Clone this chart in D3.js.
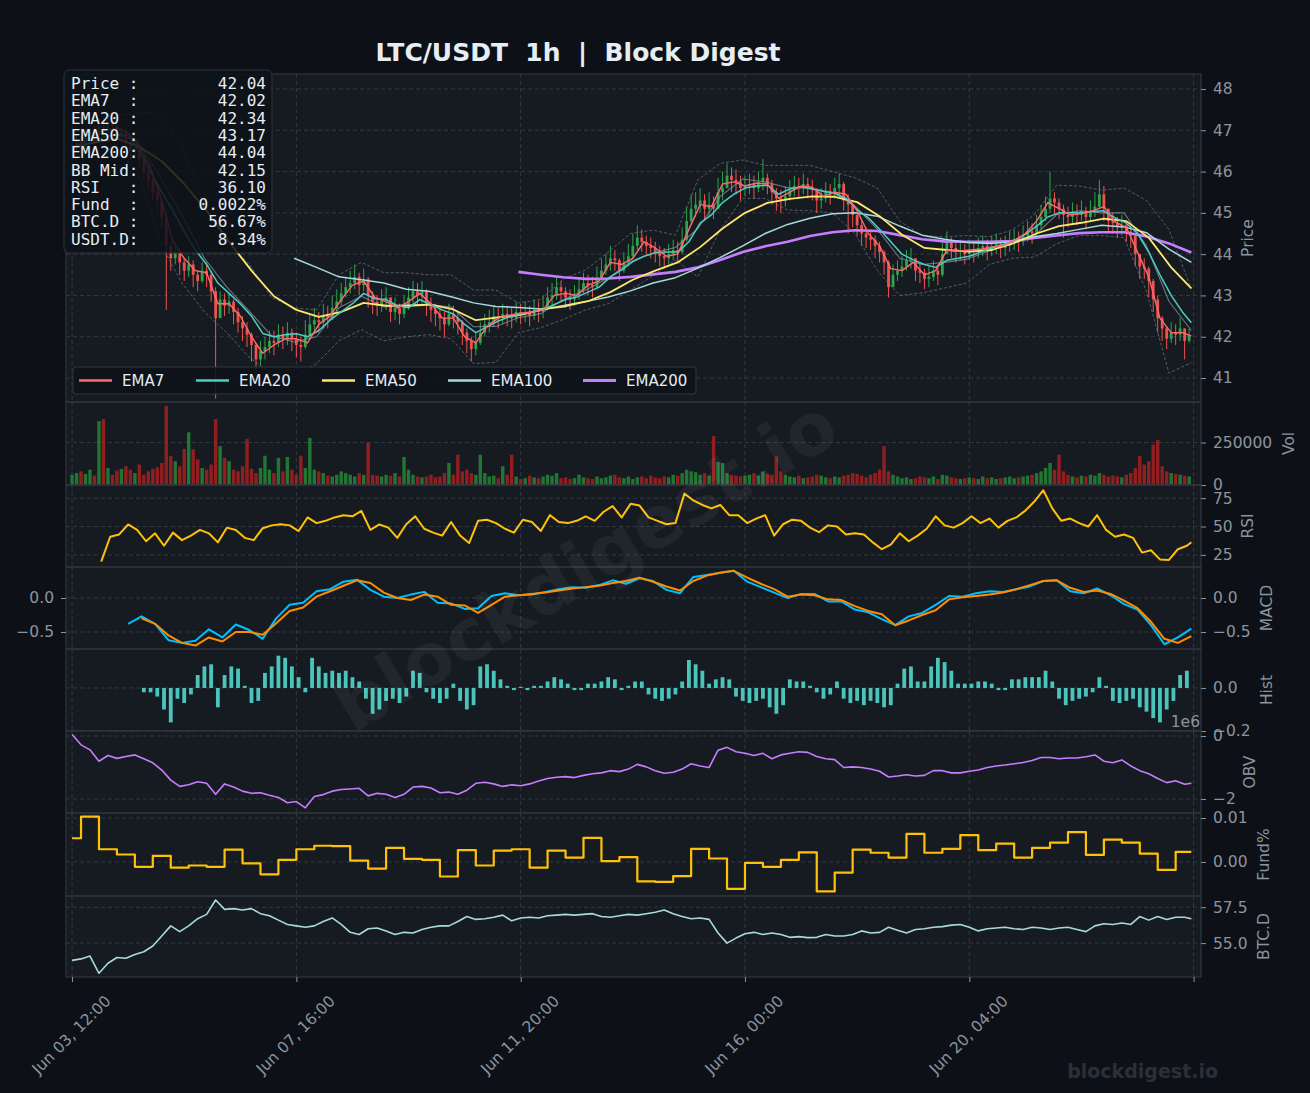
<!DOCTYPE html>
<html>
<head>
<meta charset="utf-8">
<script src="https://cdn.jsdelivr.net/npm/d3@7"></script>
<style>
html, body { margin: 0; padding: 0; background: #0d1117; }
svg { display: block; }
text { font-family: "DejaVu Sans", sans-serif; }
</style>
</head>
<body>
<svg id="chart" width="1310" height="1093"></svg>
<script>
// ---- data (hourly LTC/USDT) ----
// candles are sampled every 2 hours, k -> hour 2k
var firstOpen = 46.5;
var closes = [46.6,46.75,46.6,46.9,47.0,46.85,47.1,47.05,47.2,47.1,
46.9,46.95,46.7,46.5,46.55,46.3,46.0,45.8,45.5,45.3,
44.9,44.2,43.9,44.05,43.8,43.6,43.75,43.5,43.35,43.6,
43.5,43.1,42.45,42.9,42.75,42.85,42.6,42.35,42.2,42.05,
41.8,41.45,41.65,41.75,41.9,41.85,42.05,41.95,42.1,41.95,
41.8,41.75,42.05,42.3,42.4,42.35,42.5,42.45,42.7,42.85,
43.05,43.2,43.3,43.45,43.25,43.4,43.0,42.85,42.75,42.9,
42.95,42.6,42.7,42.55,42.75,42.95,43.1,43.0,43.1,42.8,
42.65,42.55,42.45,42.3,42.55,42.45,42.35,42.1,41.9,41.7,
41.85,42.1,42.3,42.35,42.5,42.45,42.55,42.5,42.45,42.6,
42.55,42.6,42.5,42.65,42.6,42.7,42.95,43.0,43.2,43.1,
42.95,42.9,43.0,43.15,43.3,43.25,43.2,43.4,43.6,43.75,
43.9,43.85,43.6,43.8,43.95,44.2,44.4,44.3,44.2,44.15,
44.05,43.95,43.9,44.0,44.1,44.05,44.35,44.8,45.1,45.2,
45.3,45.1,45.2,45.1,45.5,45.6,45.9,45.8,45.75,45.6,
45.65,45.7,45.6,45.75,45.85,45.7,45.5,45.35,45.3,45.4,
45.55,45.65,45.6,45.7,45.6,45.55,45.3,45.35,45.5,45.45,
45.6,45.7,45.3,45.2,44.95,44.7,44.5,44.4,44.35,44.2,
44.05,43.8,43.2,43.5,43.6,43.7,43.85,43.9,43.6,43.55,
43.4,43.45,43.6,43.5,44.0,44.3,44.15,44.05,44.1,44.0,
44.1,44.05,44.15,44.2,44.1,44.2,44.25,44.15,44.2,44.3,
44.35,44.3,44.45,44.55,44.5,44.7,44.9,45.1,45.35,45.25,
45.1,44.95,44.9,45.0,44.95,45.05,44.9,45.05,45.15,45.45,
45.1,44.8,44.75,44.65,44.7,44.55,44.45,44.0,43.7,43.65,
43.35,42.9,42.45,42.2,41.95,42.1,42.05,42.2,41.9,42.04];

var highs = [46.8,46.9,46.85,47.05,47.2,47.1,47.25,47.3,47.4,47.3,
47.15,47.1,47.0,46.75,46.75,46.6,46.35,46.1,45.85,45.6,
45.4,45.0,44.3,44.3,44.15,43.9,43.95,43.85,43.6,43.8,
43.8,43.6,43.2,43.1,43.05,43.05,42.9,42.7,42.5,42.35,
42.1,41.85,41.9,42.0,42.15,42.15,42.3,42.25,42.35,42.2,
42.1,42.0,42.4,42.55,42.7,42.6,42.8,42.75,43.0,43.15,
43.3,43.45,43.6,43.75,43.55,43.65,43.45,43.1,43.0,43.15,
43.2,42.95,42.95,42.8,43.0,43.2,43.35,43.3,43.35,43.15,
42.95,42.8,42.7,42.6,42.8,42.75,42.6,42.4,42.2,42.0,
42.1,42.35,42.55,42.65,42.75,42.7,42.8,42.75,42.7,42.85,
42.8,42.85,42.75,42.9,42.85,43.0,43.2,43.3,43.45,43.35,
43.2,43.15,43.25,43.4,43.55,43.5,43.45,43.7,43.9,44.0,
44.2,44.1,43.9,44.05,44.25,44.5,44.7,44.6,44.45,44.4,
44.3,44.2,44.15,44.25,44.35,44.3,44.65,45.15,45.45,45.5,
45.6,45.45,45.5,45.4,45.85,46.0,46.2,46.1,46.05,45.9,
45.9,45.95,45.9,46.0,46.3,45.95,45.8,45.6,45.55,45.65,
45.8,45.9,45.85,45.95,45.85,45.8,45.6,45.6,45.75,45.7,
45.85,45.95,45.75,45.45,45.25,45.0,44.8,44.65,44.6,44.45,
44.3,44.1,43.85,43.75,43.85,43.95,44.1,44.15,43.9,43.8,
43.65,43.7,43.85,43.75,44.3,44.55,44.4,44.3,44.35,44.25,
44.35,44.3,44.4,44.45,44.35,44.45,44.5,44.4,44.45,44.55,
44.6,44.55,44.7,44.8,44.75,44.95,45.2,45.4,46.0,45.5,
45.35,45.2,45.15,45.25,45.2,45.3,45.15,45.3,45.5,45.8,
45.65,45.1,45.0,44.9,44.95,44.8,44.7,44.4,44.0,43.9,
43.7,43.4,43.0,42.5,42.25,42.35,42.3,42.45,42.2,42.2];

var lows = [46.4,46.5,46.45,46.55,46.8,46.7,46.8,46.9,46.95,46.9,
46.75,46.7,46.5,46.3,46.3,46.1,45.8,45.55,45.3,45.05,
44.6,42.65,43.6,43.75,43.5,43.35,43.45,43.2,43.1,43.3,
43.2,42.85,40.5,42.55,42.5,42.55,42.3,42.1,41.9,41.75,
41.4,41.05,41.3,41.45,41.6,41.55,41.75,41.7,41.8,41.65,
41.5,41.4,41.7,41.95,42.1,42.1,42.2,42.2,42.4,42.55,
42.75,42.95,43.05,43.15,43.0,43.1,42.7,42.55,42.5,42.6,
42.65,42.35,42.4,42.3,42.45,42.65,42.8,42.75,42.8,42.5,
42.35,42.25,42.15,42.0,42.25,42.2,42.05,41.8,41.6,41.4,
41.55,41.8,42.0,42.1,42.25,42.2,42.3,42.25,42.2,42.35,
42.3,42.35,42.25,42.4,42.35,42.45,42.65,42.75,42.9,42.85,
42.7,42.65,42.75,42.9,43.05,43.0,42.95,43.15,43.35,43.5,
43.6,43.6,43.35,43.55,43.7,43.9,44.1,44.05,43.95,43.9,
43.8,43.7,43.65,43.75,43.85,43.8,44.0,44.3,44.75,44.9,
45.0,44.8,44.9,44.85,45.1,45.3,45.6,45.5,45.45,45.3,
45.4,45.45,45.35,45.5,45.55,45.45,45.2,45.05,45.0,45.15,
45.3,45.4,45.35,45.45,45.35,45.3,45.0,45.1,45.25,45.2,
45.35,45.4,45.05,44.5,44.65,44.45,44.2,44.15,44.1,43.9,
43.8,43.5,42.95,43.2,43.35,43.45,43.6,43.65,43.35,43.3,
43.15,43.2,43.35,43.25,43.45,44.0,43.9,43.8,43.85,43.75,
43.85,43.8,43.9,43.95,43.85,43.95,44.0,43.9,43.95,44.05,
44.1,44.05,44.2,44.3,44.25,44.45,44.6,44.8,45.0,44.95,
44.85,44.4,44.65,44.75,44.7,44.8,44.6,44.8,44.9,45.1,
44.8,44.55,44.5,44.4,44.45,44.3,44.15,43.7,43.4,43.4,
42.95,42.6,42.1,41.9,41.7,41.85,41.8,41.9,41.45,41.85];

// volume per 2h candle, thousands
var volK = [60,70,80,65,90,55,375,387,100,60,
85,95,110,90,70,120,60,80,95,105,
130,464,170,140,110,212,310,210,150,100,
90,120,387,228,160,140,90,80,110,271,
95,70,100,172,90,70,160,80,165,90,
60,172,100,277,90,80,70,55,50,60,
80,70,60,50,70,60,248,60,55,50,
60,55,70,50,165,90,60,50,45,50,
60,45,50,70,130,60,178,80,90,70,
60,178,70,50,55,40,110,60,178,50,
35,40,55,45,40,50,60,55,70,40,
45,35,40,60,45,40,35,50,40,45,
55,60,45,40,50,35,45,50,40,55,
45,40,50,45,60,55,70,90,80,75,
60,70,55,288,135,130,70,60,55,50,
55,60,70,55,80,65,60,168,80,60,
50,45,55,40,45,50,60,55,45,40,
50,45,55,60,70,65,55,45,60,70,
90,228,80,60,50,40,45,35,40,50,
45,40,50,35,60,55,45,40,35,40,
45,40,35,50,40,45,35,40,45,50,
40,45,50,55,60,70,80,100,130,90,
178,80,60,50,45,55,50,60,55,70,
60,50,55,50,45,60,70,100,170,120,
140,238,264,110,80,70,65,60,55,50];

// EMA7 / EMA20: every 5h from hour 0
var ema7 = [46.6,46.7,46.85,47.0,47.05,46.95,46.6,46.1,45.3,44.3,
43.9,43.6,43.55,42.8,42.8,42.5,42.0,41.6,41.8,41.95,
41.95,41.85,42.3,42.5,42.9,43.25,43.35,42.95,42.85,42.7,
42.85,43.05,42.8,42.45,42.45,42.0,41.85,42.25,42.45,42.52,
42.57,42.6,42.65,43.0,43.05,43.0,43.25,43.35,43.8,43.75,
43.9,44.3,44.15,43.95,44.0,44.6,45.2,45.15,45.7,45.75,
45.65,45.72,45.7,45.35,45.5,45.65,45.62,45.4,45.5,45.45,
45.05,44.5,44.2,43.65,43.6,43.8,43.5,43.6,44.1,44.07,
44.1,44.12,44.17,44.2,44.33,44.5,44.8,45.25,45.1,44.95,
44.98,45.05,45.15,44.78,44.65,44.05,43.45,42.45,42.1,42.1,42.02];
var ema20 = [46.6,46.65,46.75,46.85,46.9,46.88,46.5,46.0,45.5,45.05,
44.55,44.1,43.75,43.3,43.05,42.8,42.5,42.08,42.0,42.05,
42.07,42.0,42.15,42.4,42.6,42.8,43.05,42.92,42.9,42.75,
42.7,42.9,42.78,42.65,42.55,42.3,42.1,42.24,42.38,42.48,
42.55,42.6,42.65,42.78,42.9,42.96,43.08,43.2,43.45,43.62,
43.82,43.95,44.03,44.05,44.05,44.3,44.75,44.95,45.25,45.45,
45.6,45.65,45.67,45.45,45.58,45.63,45.58,45.52,45.48,45.35,
45.08,44.88,44.6,44.3,44.0,43.86,43.75,43.68,43.85,43.9,
43.95,44.05,44.15,44.23,44.33,44.48,44.68,44.9,45.0,45.0,
45.0,45.03,45.05,44.88,44.75,44.5,44.05,43.5,43.0,42.6,42.34];
// EMA50: every 10h from hour 0
var ema50 = [46.6,46.7,46.8,46.6,46.25,45.7,45.05,44.3,43.6,42.98,
42.65,42.48,42.6,42.82,42.75,42.75,42.78,42.66,42.4,42.47,
42.53,42.66,42.76,42.86,43.08,43.38,43.6,43.8,44.17,44.62,
45.0,45.24,45.34,45.4,45.39,45.26,44.92,44.47,44.15,44.1,
44.06,44.1,44.27,44.5,44.68,44.76,44.86,44.8,44.4,43.68,43.17];
// EMA100: every 10h from hour 99
var ema100 = [43.9,43.68,43.45,43.38,43.3,43.15,43.1,42.97,42.82,42.73,
42.71,42.67,42.72,42.85,42.96,43.11,43.3,43.43,43.66,43.92,
44.2,44.5,44.72,44.87,44.98,45.0,44.92,44.68,44.46,44.36,
44.28,44.26,44.3,44.42,44.5,44.6,44.7,44.66,44.52,44.12,43.8];
// EMA200: every 10h from hour 199
var ema200 = [43.57,43.5,43.44,43.4,43.41,43.45,43.51,43.57,43.68,43.86,
44.05,44.19,44.3,44.44,44.53,44.58,44.56,44.46,44.36,44.31,
44.3,44.3,44.32,44.39,44.45,44.51,44.53,44.53,44.43,44.26,44.04];
// Bollinger bands: every 10h from hour 19
var bbUpper = [47.35,47.4,47.45,46.6,45.2,44.3,43.75,42.95,42.7,42.65,
43.5,43.8,43.55,43.55,43.5,43.5,43.13,43.13,42.82,42.9,
43.4,43.62,44.05,44.5,44.58,44.46,45.8,46.2,46.28,46.15,
46.15,46.15,46.0,45.85,45.6,44.8,44.45,44.42,44.45,44.42,
44.58,44.95,45.67,45.65,45.55,45.6,45.3,44.6,43.15];
var bbMid = [46.9,46.75,45.9,44.95,43.9,43.2,42.62,42.02,41.87,42.0,
42.7,42.98,42.72,42.78,42.78,42.72,42.24,42.25,42.46,42.56,
42.9,43.13,43.42,43.82,44.03,44.16,44.62,45.4,45.82,45.75,
45.61,45.6,45.5,45.17,44.6,43.9,43.75,43.8,43.88,44.08,
44.24,44.44,44.96,45.05,45.0,45.0,44.2,42.86,42.15];
var bbLower = [46.45,46.1,44.3,43.3,42.6,42.1,41.5,41.1,41.03,41.35,
41.9,42.17,41.9,42.0,42.05,41.95,41.35,41.38,42.1,42.22,
42.42,42.65,42.8,43.13,43.48,43.86,43.45,44.6,45.35,45.35,
45.07,45.05,45.0,44.5,43.6,43.0,43.06,43.18,43.3,43.75,
43.9,43.93,44.25,44.45,44.45,44.4,43.1,41.12,41.37];

// RSI: every 4h from hour 13
var rsi = [19,41,43,51.8,47,37,44,33,44.6,38,
42,47,44,36,49,47,40,38,48.5,51,
52,51,46,58,53,55,58,60,59,63.7,
47,51.8,49,40,52,59,48,44.6,42,54,
42,35.4,55,56,53,48,44.6,56,54,46,
60,54,53,55,59,55,63,68,58,70,
68.5,58,55,52,53,79,73,69,66,69,
60,60,53,57,60,42,52,56,55,49,
45,51,50,43,44,43,36,30,34,44,
37,42,48,59,51,49,53,59,53,57,
49,55,58,64,72,82,66,55,57,53,
50,60,47,41,43,40,27,29,21,20.5,
30,33,36.1];

// MACD: every 6h from hour 25; signal: every 6h from hour 31
var macd = [-0.38,-0.27,-0.38,-0.62,-0.66,-0.63,-0.46,-0.58,-0.39,-0.47,
-0.6,-0.3,-0.1,-0.07,0.1,0.13,0.24,0.27,0.12,0.02,
0.0,0.05,0.09,-0.07,-0.08,-0.16,-0.15,0.03,0.07,0.04,
0.05,0.09,0.13,0.16,0.15,0.19,0.26,0.21,0.29,0.25,
0.12,0.07,0.31,0.34,0.37,0.4,0.24,0.16,0.08,0.0,
0.06,0.06,-0.05,-0.05,-0.17,-0.21,-0.31,-0.4,-0.27,-0.22,
-0.1,0.03,0.02,0.07,0.1,0.09,0.13,0.17,0.25,0.26,
0.1,0.07,0.14,0.04,-0.09,-0.17,-0.4,-0.68,-0.58,-0.45];
var signal = [-0.3,-0.38,-0.55,-0.66,-0.7,-0.58,-0.64,-0.5,-0.5,-0.54,
-0.37,-0.19,-0.14,0.02,0.1,0.18,0.26,0.22,0.08,0.0,
-0.03,0.05,0.02,-0.1,-0.11,-0.22,-0.1,0.02,0.04,0.06,
0.08,0.11,0.14,0.16,0.18,0.22,0.25,0.3,0.24,0.17,
0.11,0.25,0.33,0.37,0.4,0.3,0.21,0.13,0.02,0.05,
0.04,-0.02,-0.03,-0.12,-0.19,-0.24,-0.4,-0.33,-0.25,-0.18,
-0.02,0.01,0.03,0.05,0.08,0.13,0.19,0.25,0.26,0.15,
0.09,0.11,0.06,-0.04,-0.15,-0.35,-0.6,-0.66,-0.56];

// histogram: every 3h from hour 32
var hist = [-0.02,-0.02,-0.04,-0.1,-0.16,-0.05,-0.07,-0.03,0.06,0.1,
0.11,-0.09,0.06,0.1,0.09,0.01,-0.07,-0.06,0.07,0.1,
0.15,0.14,0.1,0.05,-0.02,0.14,0.1,0.07,0.08,0.07,
0.08,0.05,0.03,-0.05,-0.12,-0.1,-0.06,-0.05,-0.07,-0.04,
0.08,0.07,-0.02,-0.05,-0.07,-0.05,0.02,-0.06,-0.1,-0.08,
0.1,0.11,0.08,0.04,0.01,-0.01,0.005,-0.01,0.01,0.01,
0.03,0.05,0.04,0.02,-0.01,-0.01,0.02,0.02,0.03,0.05,
0.04,-0.01,0.01,0.03,0.03,-0.03,-0.05,-0.06,-0.05,-0.03,
0.03,0.13,0.11,0.08,0.02,0.04,0.05,0.04,-0.04,-0.06,
-0.07,-0.06,-0.05,-0.09,-0.12,-0.08,0.04,0.03,0.03,0.01,
-0.02,-0.05,-0.03,0.03,-0.05,-0.07,-0.06,-0.08,-0.06,-0.07,
-0.09,-0.08,0.02,0.09,0.1,0.03,0.03,0.1,0.14,0.12,
0.08,0.02,0.02,0.02,0.03,0.03,0.02,-0.01,-0.01,0.04,
0.04,0.05,0.05,0.05,0.08,0.03,-0.05,-0.08,-0.06,-0.05,
-0.04,-0.02,0.05,0.01,-0.06,-0.07,-0.06,-0.05,-0.09,-0.11,
-0.14,-0.16,-0.1,-0.06,0.06,0.08];

// OBV (x1e6): every 4h from hour 0
var obv = [0.05,-0.28,-0.44,-0.8,-0.62,-0.71,-0.65,-0.6,-0.72,-0.85,
-1.08,-1.4,-1.6,-1.55,-1.45,-1.5,-1.85,-1.52,-1.62,-1.75,
-1.82,-1.8,-1.88,-1.95,-2.12,-2.08,-2.28,-1.92,-1.86,-1.75,
-1.7,-1.68,-1.66,-1.9,-1.82,-1.85,-1.95,-1.85,-1.62,-1.6,
-1.65,-1.8,-1.78,-1.85,-1.72,-1.5,-1.47,-1.52,-1.6,-1.55,
-1.58,-1.52,-1.43,-1.35,-1.31,-1.29,-1.32,-1.25,-1.2,-1.17,
-1.1,-1.13,-1.05,-0.9,-0.98,-1.1,-1.18,-1.15,-1.05,-0.88,
-0.95,-1.0,-0.45,-0.36,-0.5,-0.55,-0.62,-0.55,-0.72,-0.6,
-0.55,-0.5,-0.52,-0.65,-0.72,-0.75,-1.0,-0.98,-1.0,-1.05,
-1.12,-1.3,-1.27,-1.23,-1.27,-1.25,-1.1,-1.1,-1.17,-1.17,
-1.12,-1.08,-1.0,-0.95,-0.92,-0.88,-0.84,-0.78,-0.68,-0.68,
-0.72,-0.7,-0.7,-0.66,-0.6,-0.8,-0.85,-0.76,-0.95,-1.1,
-1.2,-1.35,-1.48,-1.42,-1.53,-1.5];

// funding rate (%), one value per 8h window
var fund = [0.0054,0.0103,0.0029,0.0017,-0.0011,0.0014,-0.0013,-0.0008,-0.0011,0.0028,
-0.0003,-0.0028,0.0005,0.0029,0.0037,0.0036,0.0003,-0.0015,0.0032,0.0007,
0.0005,-0.0033,0.0027,-0.0008,0.0026,0.0029,-0.0013,0.0026,0.001,0.0055,
0.0002,0.0011,-0.0044,-0.0045,-0.0032,0.003,0.0008,-0.0061,-0.0002,-0.0011,
0.0005,0.0022,-0.0067,-0.0024,0.0028,0.0021,0.001,0.0064,0.0021,0.003,
0.0061,0.0027,0.0042,0.001,0.0032,0.0044,0.0068,0.0016,0.0051,0.0044,
0.0019,-0.0018,0.0023];

// BTC dominance (%): every 4h from hour 0
var btcd = [53.8,53.9,54.1,52.9,53.6,54.0,53.95,54.2,54.4,54.8,
55.5,56.2,55.8,56.2,56.7,57.0,58.0,57.35,57.4,57.3,
57.4,57.05,56.9,56.6,56.3,56.2,56.1,56.2,56.5,56.75,
56.3,55.75,55.6,56.0,56.05,55.85,55.6,55.75,55.7,55.95,
56.1,56.2,56.2,56.5,56.85,56.65,56.7,56.8,56.95,56.55,
56.75,56.8,56.75,56.9,56.95,57.0,56.95,57.0,57.05,56.85,
56.8,56.9,57.0,56.95,57.05,57.15,57.3,57.05,56.85,56.7,
56.75,56.65,55.7,55.0,55.35,55.65,55.75,55.6,55.7,55.6,
55.4,55.45,55.38,55.4,55.6,55.5,55.5,55.6,55.85,55.7,
55.75,56.1,55.9,55.7,55.95,56.0,56.1,56.15,56.25,56.3,
56.1,55.85,56.0,56.05,56.1,56.0,55.95,56.1,56.05,55.95,
56.05,56.1,55.95,55.8,56.2,56.35,56.3,56.4,56.3,56.85,
56.6,56.85,56.65,56.8,56.8,56.7];

var infoLabels = ["Price :", "EMA7  :", "EMA20 :", "EMA50 :", "EMA200:", "BB Mid:", "RSI   :", "Fund  :", "BTC.D :", "USDT.D:"];
var infoValues = ["42.04", "42.02", "42.34", "43.17", "44.04", "42.15", "36.10", "0.0022%", "56.67%", "8.34%"];
var legendNames = ["EMA7", "EMA20", "EMA50", "EMA100", "EMA200"];
var xTickHours = [0, 100, 200, 300, 400, 500];

// ---- layout ----
var W = 1310, H = 1093;
var plotL = 66, plotR = 1201;
var t0 = new Date(2024, 5, 3, 12, 0, 0);
function hourDate(h) { return new Date(t0.getTime() + h * 3600000); }
var x = d3.scaleTime().domain([hourDate(-2.7), hourDate(503.3)]).range([plotL, plotR]);
function xh(h) { return x(hourDate(h)); }

var panels = [
  {name: "price", top: 74, bottom: 402, domain: [40.419, 48.363], ticks: [41,42,43,44,45,46,47,48], fmt: "d", label: "Price", labelX: 1248},
  {name: "vol", top: 402, bottom: 485, domain: [0, 488095], ticks: [0, 250000], fmt: "d", label: "Vol", labelX: 1289},
  {name: "rsi", top: 485, bottom: 567, domain: [14.3, 86.6], ticks: [25, 50, 75], fmt: "d", label: "RSI", labelX: 1248},
  {name: "macd", top: 567, bottom: 649, domain: [-0.75, 0.456], ticks: [-0.5, 0], fmt: ".1f", label: "MACD", labelX: 1267, left: true},
  {name: "hist", top: 649, bottom: 731, domain: [-0.2, 0.181], ticks: [-0.2, 0], fmt: ".1f", label: "Hist", labelX: 1267},
  {name: "obv", top: 731, bottom: 813, domain: [-2.444, 0.159], ticks: [-2, 0], fmt: "d", label: "OBV", labelX: 1250},
  {name: "fund", top: 813, bottom: 896, domain: [-0.00773, 0.01114], ticks: [0, 0.01], fmt: ".2f", label: "Fund%", labelX: 1264},
  {name: "btcd", top: 896, bottom: 977, domain: [52.64, 58.28], ticks: [55, 57.5], fmt: ".1f", label: "BTC.D", labelX: 1264}
];
var pn = {};
panels.forEach(function(p) { pn[p.name] = p; });

var svg = d3.select("#chart");
svg.append("rect").attr("width", W).attr("height", H).attr("fill", "#0d1117");
var defs = svg.append("defs");

panels.forEach(function(p) {
  p.y = d3.scaleLinear().domain(p.domain).range([p.bottom, p.top]);
  svg.append("rect").attr("x", plotL).attr("y", p.top)
    .attr("width", plotR - plotL).attr("height", p.bottom - p.top).attr("fill", "#161b22");
  defs.append("clipPath").attr("id", "clip-" + p.name).append("rect")
    .attr("x", plotL).attr("y", p.top).attr("width", plotR - plotL).attr("height", p.bottom - p.top);
  p.g = svg.append("g").attr("clip-path", "url(#clip-" + p.name + ")");
  p.g.selectAll(".hg").data(p.ticks).enter().append("line")
    .attr("x1", plotL).attr("x2", plotR)
    .attr("y1", function(d) { return p.y(d); }).attr("y2", function(d) { return p.y(d); })
    .attr("stroke", "#3a404a").attr("stroke-width", 0.8).attr("stroke-dasharray", "4,3");
  p.g.selectAll(".vg").data(xTickHours).enter().append("line")
    .attr("x1", xh).attr("x2", xh).attr("y1", p.top).attr("y2", p.bottom)
    .attr("stroke", "#3a404a").attr("stroke-width", 0.8).attr("stroke-dasharray", "4,3");
});

function pts(values, start, step) {
  return values.map(function(v, j) { return {h: Math.min(start + step * j, 499), v: v}; });
}
function lineFor(p, curve) {
  return d3.line().x(function(d) { return xh(d.h); }).y(function(d) { return p.y(d.v); }).curve(curve || d3.curveLinear);
}
function drawLine(p, data, color, width, extra) {
  var path = p.g.append("path").datum(data).attr("d", lineFor(p, extra && extra.curve))
    .attr("fill", "none").attr("stroke", color).attr("stroke-width", width)
    .attr("stroke-linejoin", "round");
  if (extra && extra.dash) path.attr("stroke-dasharray", extra.dash);
  if (extra && extra.opacity) path.attr("opacity", extra.opacity);
  return path;
}

// ---- price panel ----
var P = pn.price;
var upCol = "#2da44e", dnCol = "#f0524f";
drawLine(P, pts(bbUpper, 19, 10), "#8b949e", 0.9, {dash: "3,2", opacity: 0.6});
drawLine(P, pts(bbLower, 19, 10), "#8b949e", 0.9, {dash: "3,2", opacity: 0.6});

var candles = closes.map(function(c, k) {
  var o = k === 0 ? firstOpen : closes[k - 1];
  return {h: 2 * k, o: o, c: c, hi: Math.max(highs[k], o, c), lo: Math.min(lows[k], o, c), up: c >= o};
});
P.g.selectAll(".wick").data(candles).enter().append("line")
  .attr("x1", function(d) { return xh(d.h); }).attr("x2", function(d) { return xh(d.h); })
  .attr("y1", function(d) { return P.y(d.hi); }).attr("y2", function(d) { return P.y(d.lo); })
  .attr("stroke", function(d) { return d.up ? upCol : dnCol; }).attr("stroke-width", 1);
P.g.selectAll(".body").data(candles).enter().append("rect")
  .attr("x", function(d) { return xh(d.h) - 1.4; }).attr("width", 2.8)
  .attr("y", function(d) { return P.y(Math.max(d.o, d.c)); })
  .attr("height", function(d) { return Math.max(1, Math.abs(P.y(d.o) - P.y(d.c))); })
  .attr("fill", function(d) { return d.up ? upCol : dnCol; });

drawLine(P, pts(bbMid, 19, 10), "#8b949e", 1.1, {opacity: 0.75});
var emaColors = ["#ff6b6b", "#4ecdc4", "#ffe66d", "#a8dadc", "#c77dff"];
drawLine(P, pts(ema200, 199, 10), emaColors[4], 2.6);
drawLine(P, pts(ema100, 99, 10), emaColors[3], 1.5);
drawLine(P, pts(ema50, 0, 10), emaColors[2], 1.8);
drawLine(P, pts(ema20, 0, 5), emaColors[1], 1.5);
drawLine(P, pts(ema7, 0, 5), emaColors[0], 1.4);

// ---- volume ----
var V = pn.vol;
V.g.selectAll(".vb").data(volK).enter().append("rect")
  .attr("x", function(d, k) { return xh(2 * k) - 1.7; }).attr("width", 3.4)
  .attr("y", function(d) { return V.y(d * 1000); })
  .attr("height", function(d) { return V.y(0) - V.y(d * 1000); })
  .attr("fill", function(d, k) { return candles[k].up ? "#238636" : "#a8201e"; })
  .attr("opacity", 0.85);

// ---- RSI / MACD ----
drawLine(pn.rsi, pts(rsi, 13, 4), "#ffc107", 2);
drawLine(pn.macd, pts(macd, 25, 6), "#00bfff", 2);
drawLine(pn.macd, pts(signal, 31, 6), "#ff8c00", 2);

// ---- histogram ----
var HI = pn.hist;
HI.g.selectAll(".hb").data(hist).enter().append("rect")
  .attr("x", function(d, j) { return xh(32 + 3 * j) - 1.9; }).attr("width", 3.8)
  .attr("y", function(d) { return Math.min(HI.y(0), HI.y(d)); })
  .attr("height", function(d) { return Math.abs(HI.y(d) - HI.y(0)); })
  .attr("fill", "#4ecdc4").attr("opacity", 0.95);

// ---- OBV / funding / BTC.D ----
drawLine(pn.obv, pts(obv, 0, 4), "#c77dff", 1.6);
var fundPts = fund.map(function(v, j) { return {h: j === 0 ? 0 : 8 * j - 4, v: v}; });
fundPts.push({h: 499, v: fund[fund.length - 1]});
drawLine(pn.fund, fundPts, "#ffc107", 2.2, {curve: d3.curveStepAfter});
drawLine(pn.btcd, pts(btcd, 0, 4), "#a8dadc", 1.6);

// ---- frames and axes ----
panels.forEach(function(p) {
  svg.append("rect").attr("x", plotL).attr("y", p.top)
    .attr("width", plotR - plotL).attr("height", p.bottom - p.top)
    .attr("fill", "none").attr("stroke", "#30363d").attr("stroke-width", 1.2);
  var ax = d3.axisRight(p.y).tickValues(p.ticks).tickFormat(d3.format(p.fmt)).tickSize(5).tickPadding(7);
  var ag = svg.append("g").attr("transform", "translate(" + plotR + ",0)").call(ax);
  ag.select(".domain").remove();
  ag.selectAll("line").attr("stroke", "#8b949e");
  ag.selectAll("text").attr("fill", "#8b949e").style("font-size", "15.5px").style("font-family", "DejaVu Sans");
  if (p.left) {
    var al = d3.axisLeft(p.y).tickValues(p.ticks).tickFormat(d3.format(p.fmt)).tickSize(5).tickPadding(7);
    var lg = svg.append("g").attr("transform", "translate(" + plotL + ",0)").call(al);
    lg.select(".domain").remove();
    lg.selectAll("line").attr("stroke", "#8b949e");
    lg.selectAll("text").attr("fill", "#8b949e").style("font-size", "15.5px").style("font-family", "DejaVu Sans");
  }
  svg.append("text")
    .attr("transform", "translate(" + p.labelX + "," + ((p.top + p.bottom) / 2) + ") rotate(-90)")
    .attr("text-anchor", "middle").attr("dominant-baseline", "central")
    .attr("fill", "#8b949e").style("font-size", "15.5px").text(p.label);
});
svg.append("text").attr("x", 1200).attr("y", 727).attr("text-anchor", "end")
  .attr("fill", "#8b949e").style("font-size", "15.5px").text("1e6");

var fmtX = d3.timeFormat("%b %d, %H:%M");
var xa = d3.axisBottom(x).tickValues(xTickHours.map(hourDate))
  .tickFormat(function(d, i) { return i < 5 ? fmtX(d) : ""; }).tickSize(5);
var xg = svg.append("g").attr("transform", "translate(0,977)").call(xa);
xg.select(".domain").remove();
xg.selectAll("line").attr("stroke", "#8b949e");
xg.selectAll("text").attr("y", null).attr("dy", null)
  .attr("transform", "translate(-1,58) rotate(-45)")
  .attr("text-anchor", "middle").attr("dominant-baseline", "central")
  .attr("fill", "#8b949e").style("font-size", "15.5px").style("font-family", "DejaVu Sans");

// ---- legend ----
var lgX = [79, 196, 322, 448, 583];
var leg = svg.append("g");
leg.append("rect").attr("x", 73).attr("y", 367).attr("width", 623).attr("height", 27).attr("rx", 3)
  .attr("fill", "#0d1117").attr("fill-opacity", 0.85).attr("stroke", "#30363d");
legendNames.forEach(function(n, i) {
  leg.append("line").attr("x1", lgX[i]).attr("x2", lgX[i] + 33).attr("y1", 380.5).attr("y2", 380.5)
    .attr("stroke", emaColors[i]).attr("stroke-width", i === 4 ? 3 : 2.5);
  leg.append("text").attr("x", lgX[i] + 43).attr("y", 386).attr("fill", "#e6edf3")
    .style("font-size", "15px").text(n);
});

// ---- info box ----
var info = svg.append("g");
info.append("rect").attr("x", 64).attr("y", 70).attr("width", 208).attr("height", 183).attr("rx", 5)
  .attr("fill", "#0d1117").attr("fill-opacity", 0.85).attr("stroke", "#30363d");
infoLabels.forEach(function(l, i) {
  info.append("text").attr("x", 71).attr("y", 89 + 17.3 * i).attr("fill", "#e6edf3")
    .style("font-family", "DejaVu Sans Mono").style("font-size", "16px").style("white-space", "pre").text(l);
  info.append("text").attr("x", 266).attr("y", 89 + 17.3 * i).attr("text-anchor", "end").attr("fill", "#e6edf3")
    .style("font-family", "DejaVu Sans Mono").style("font-size", "16px").text(infoValues[i]);
});

// ---- title and watermarks ----
svg.append("text").attr("x", 578).attr("y", 61).attr("text-anchor", "middle")
  .attr("fill", "#e6edf3").style("font-size", "25px").style("font-weight", "bold").style("white-space", "pre")
  .text("LTC/USDT  1h  |  Block Digest");
svg.append("text").attr("transform", "translate(585,565) rotate(-31)")
  .attr("text-anchor", "middle").attr("dominant-baseline", "central")
  .attr("fill", "#ffffff").attr("fill-opacity", 0.05)
  .style("font-size", "72px").style("font-weight", "bold").text("blockdigest.io");
svg.append("text").attr("x", 1218).attr("y", 1078).attr("text-anchor", "end")
  .attr("fill", "#2a3038").style("font-size", "19px").style("font-weight", "bold").text("blockdigest.io");
</script>
</body>
</html>
